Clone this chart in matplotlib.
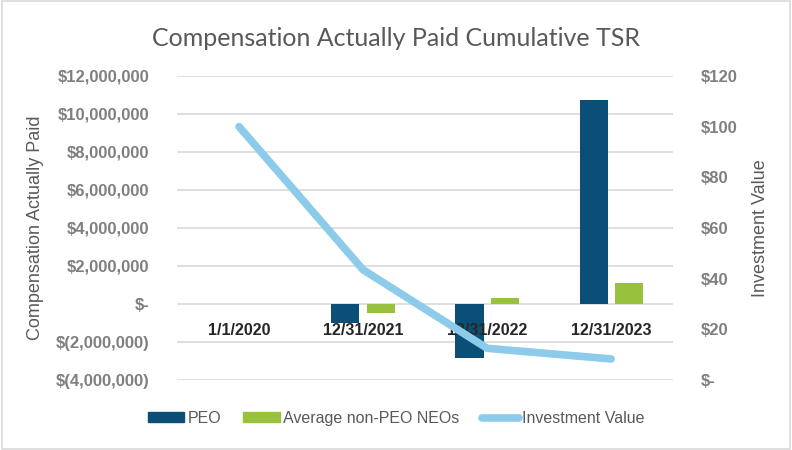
import matplotlib
matplotlib.use("Agg")
import matplotlib.pyplot as plt
import matplotlib.ticker as mticker
from matplotlib.patches import Rectangle
from matplotlib.lines import Line2D
import numpy as np

categories = ["1/1/2020", "12/31/2021", "12/31/2022", "12/31/2023"]
peo = [0, -1000000, -2850000, 10750000]
neo = [0, -450000, 300000, 1100000]
investment = [100, 43.5, 12.5, 8.3]

left_ticks = [-4000000, -2000000, 0, 2000000, 4000000, 6000000, 8000000, 10000000, 12000000]
right_ticks = [0, 20, 40, 60, 80, 100, 120]

c_peo = "#0b4f76"
c_neo = "#98c23d"
c_line = "#8dcbea"
c_text = "#7f7f7f"

plt.rcParams['font.family'] = ['Liberation Sans', 'DejaVu Sans']

fig = plt.figure(figsize=(7.92, 4.5), dpi=100)
ax = fig.add_axes([0.2235, 0.1556, 0.6265, 0.6756])
ax2 = ax.twinx()

x = np.arange(len(categories))
w = 0.226
ax.bar(x - 0.142, peo, w, color=c_peo, zorder=2)
ax.bar(x + 0.142, neo, w, color=c_neo, zorder=2)

ax.set_ylim(-4000000, 12000000)
ax.set_xlim(-0.5, len(categories) - 0.5)
ax.set_yticks(left_ticks)

def money(v, pos):
    if v == 0:
        return "$-"
    if v < 0:
        return "$({:,.0f})".format(-v)
    return "${:,.0f}".format(v)

ax.yaxis.set_major_formatter(mticker.FuncFormatter(money))
ax.grid(axis='y', color='#d9d9d9', linewidth=1.2, zorder=0)
ax.set_axisbelow(True)
for s in ax.spines.values():
    s.set_visible(False)
for s in ax2.spines.values():
    s.set_visible(False)
ax.spines['bottom'].set_position(('data', 0))
ax.set_xticks(x)
ax.set_xticklabels(categories, fontsize=11.5, fontweight='bold', color='#262626')
ax.xaxis.set_zorder(5)
ax.tick_params(axis='x', length=0, pad=14)
ax.tick_params(axis='y', length=0, pad=20, labelsize=12, labelcolor=c_text)
for lab in ax.get_yticklabels():
    lab.set_fontweight('bold')

ax2.plot(x, investment, color=c_line, linewidth=5.5, solid_capstyle='round', zorder=4)
ax2.set_ylim(0, 120)
ax2.set_yticks(right_ticks)
ax2.yaxis.set_major_formatter(mticker.FuncFormatter(lambda v, p: "$-" if v == 0 else "${:.0f}".format(v)))
ax2.tick_params(axis='y', length=0, pad=20, labelsize=12, labelcolor=c_text)
for lab in ax2.get_yticklabels():
    lab.set_fontweight('bold')

ax.set_ylabel("Compensation Actually Paid", fontsize=13, color='#595959', labelpad=8)
ax2.set_ylabel("Investment Value", fontsize=13, color='#595959', labelpad=10)

fig.text(0.5, 0.915, "Compensation Actually Paid Cumulative TSR", ha='center', va='center',
         fontsize=18, color='#595959', family=['Lato', 'DejaVu Sans'])

handles = [
    Rectangle((0, 0), 1, 1, color=c_peo),
    Rectangle((0, 0), 1, 1, color=c_neo),
    Line2D([0], [0], color=c_line, linewidth=5.5, solid_capstyle='round'),
]
fig.legend(handles, ["PEO", "Average non-PEO NEOs", "Investment Value"], loc='center',
           bbox_to_anchor=(0.5, 0.07), ncol=3, frameon=False, fontsize=11.5,
           labelcolor='#595959', handlelength=2.3, handleheight=0.6,
           handletextpad=0.2, columnspacing=1.4)

fig.patches.append(Rectangle((0.002, 0.003), 0.996, 0.994, transform=fig.transFigure,
                             fill=False, edgecolor='#d9d9d9', linewidth=1.2))

fig.savefig("out.png", dpi=100)
